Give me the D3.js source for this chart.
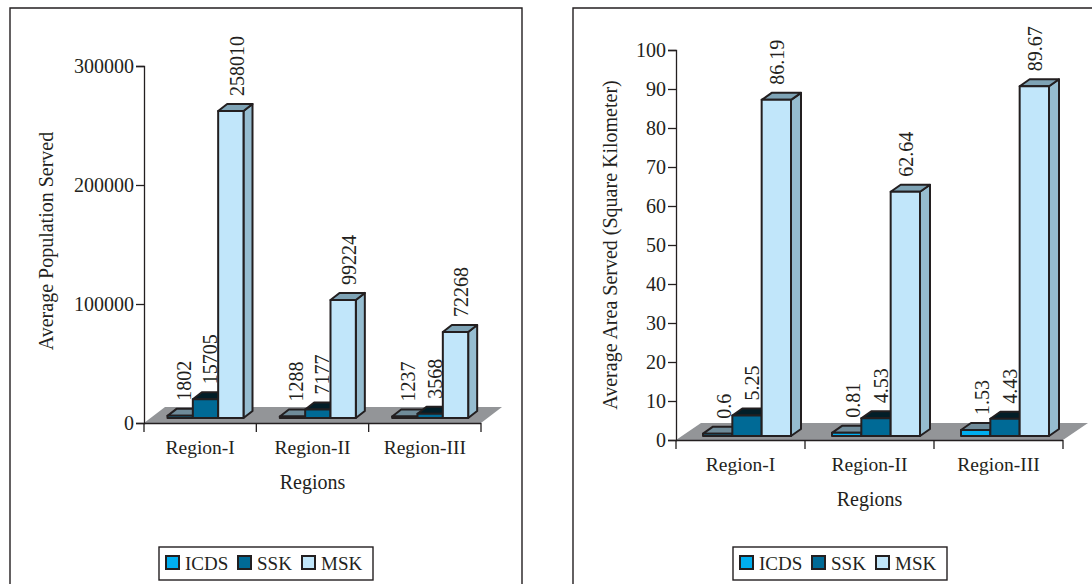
<!DOCTYPE html>
<html><head><meta charset="utf-8">
<script src="https://cdn.jsdelivr.net/npm/d3@7/dist/d3.min.js"></script>
<style>
html,body{margin:0;padding:0;background:#fff}
svg{display:block}
text{font-family:"Liberation Serif",serif;fill:#231f20}
</style></head><body>
<svg id="c" width="1092" height="584"></svg>
<script>
const regions = ["Region-I","Region-II","Region-III"];
const seriesNames = ["ICDS","SSK","MSK"];
const popICDS = [1802,1288,1237];
const popSSK = [15705,7177,3568];
const popMSK = [258010,99224,72268];
const areaICDS = [0.6,0.81,1.53];
const areaSSK = [5.25,4.53,4.43];
const areaMSK = [86.19,62.64,89.67];
const popLabels = ["1802","1288","1237","15705","7177","3568","258010","99224","72268"];
const areaLabels = ["0.6","0.81","1.53","5.25","4.53","4.43","86.19","62.64","89.67"];
const popTicks = [0,100000,200000,300000];
const areaTicks = [0,10,20,30,40,50,60,70,80,90,100];
const frontColors = ["#00aeef","#006a96","#c1e6fa"];
const topColors = ["#6f8b99","#021e28","#7ea3b5"];
const sideColors = ["#3f5560","#01303f","#96bdd0"];
const INK = "#231f20";
const svg = d3.select("#c");

function chart(o){
  const g = svg.append("g");
  g.append("path").attr("d",`M${o.fx0},584V8H${o.fx1}${o.fx1<1092?"V584":""}`)
    .attr("fill","none").attr("stroke",INK).attr("stroke-width",1.4);
  const y = d3.scaleLinear().domain(o.domain).range([o.y0,o.y1]);
  const x = d3.scaleBand().domain(regions).range([o.x0,o.x1]);
  const inner = d3.scaleBand().domain(seriesNames).range([0,o.groupW]);
  const dx=o.dx, dy=o.dy, b=o.barDrop;
  g.append("path").attr("d",`M${o.x0},${o.y0}L${o.x0+o.fl},${o.y0-o.fh}H${o.x1+o.fl}L${o.x1},${o.y0}Z`).attr("fill","#939598");
  const flat=[];
  regions.forEach((r,i)=>o.vals.forEach((v,s)=>flat.push({r,i,s,name:seriesNames[s],v:v[i],label:o.labels[s*3+i]})));
  flat.sort((a,c)=>a.i-c.i||a.s-c.s);
  const bars=g.selectAll("g.bar").data(flat).join("g").attr("class","bar");
  const st=sel=>sel.attr("stroke",INK).attr("stroke-width",2).attr("stroke-linejoin","round");
  const L=d=>x(d.r)+o.off+inner(d.name), W=inner.bandwidth(), Y0=o.y0-b, T=d=>y(d.v)-b;
  st(bars.append("path").attr("d",d=>`M${L(d)+W},${T(d)}l${dx},${-dy}V${Y0-dy}l${-dx},${dy}Z`).attr("fill",d=>sideColors[d.s]));
  st(bars.append("path").attr("d",d=>`M${L(d)},${T(d)}l${dx},${-dy}h${W}l${-dx},${dy}Z`).attr("fill",d=>topColors[d.s]));
  st(bars.append("path").attr("d",d=>`M${L(d)},${T(d)}h${W}V${Y0}H${L(d)}Z`).attr("fill",d=>frontColors[d.s]));
  g.selectAll("text.val").data(flat).join("text").attr("class","val")
    .attr("transform",d=>`translate(${L(d)+W/2+o.lx[d.s]},${T(d)-dy-o.ly}) rotate(-90)`)
    .attr("font-size",20).attr("dy","0.32em").text(d=>d.label);
  const ya=g.append("g").attr("transform",`translate(${o.x0},0)`)
    .call(d3.axisLeft(y).tickValues(o.ticks).tickFormat(d3.format("d")).tickSize(8).tickPadding(2));
  const xa=g.append("g").attr("transform",`translate(0,${o.y0})`)
    .call(d3.axisBottom(x).tickSize(0).tickPadding(17));
  const edges=[...regions.map(r=>x(r)),o.x1];
  g.append("g").selectAll("line").data(edges).join("line")
    .attr("x1",d=>d).attr("x2",d=>d).attr("y1",o.y0).attr("y2",o.y0+9).attr("stroke",INK).attr("stroke-width",1.3);
  [ya,xa].forEach(a=>{a.selectAll("path").attr("stroke",INK).attr("stroke-width",1.3);
    a.selectAll("line").attr("stroke",INK).attr("stroke-width",1.3);
    a.selectAll("text").attr("font-family",'"Liberation Serif",serif').attr("fill",INK);});
  ya.selectAll("text").attr("font-size",20);
  xa.selectAll("text").attr("font-size",19.5);
  xa.select("path").attr("d",`M${o.x0},0.5H${o.x1}`);
  g.append("text").attr("x",(o.x0+o.x1)/2).attr("y",o.y0+66).attr("text-anchor","middle").attr("font-size",20).text("Regions");
  g.append("text").attr("transform",`translate(${o.ytx},${o.yty}) rotate(-90)`).attr("text-anchor","middle").attr("font-size",20).text(o.yTitle);
  const lg=g.append("g");
  lg.append("rect").attr("x",o.lgx).attr("y",547).attr("width",214).attr("height",33).attr("fill","#fff").attr("stroke",INK).attr("stroke-width",1.4);
  const offs=[7,79,143];
  const it=lg.selectAll("g").data(seriesNames).join("g").attr("transform",(d,i)=>`translate(${o.lgx+offs[i]},556)`);
  it.append("rect").attr("width",13).attr("height",13).attr("fill",(d,i)=>frontColors[i]).attr("stroke",INK).attr("stroke-width",2);
  it.append("text").attr("x",19).attr("y",14).attr("font-size",19).text(d=>d);
}
chart({fx0:10,fx1:522,x0:144,x1:481,y0:423,y1:66,domain:[0,300000],ticks:popTicks,
  vals:[popICDS,popSSK,popMSK],labels:popLabels,off:23.5,groupW:76,dx:9,dy:7,barDrop:5,fl:21,fh:16,
  lx:[4,5,6.5],ly:8,ytx:53,yty:241,yTitle:"Average Population Served",lgx:159});
chart({fx0:573,fx1:1092,x0:676,x1:1063,y0:440,y1:50,domain:[0,100],ticks:areaTicks,
  vals:[areaICDS,areaSSK,areaMSK],labels:areaLabels,off:27,groupW:88,dx:10,dy:7,barDrop:4,fl:25,fh:17,
  lx:[7,6,1],ly:8,ytx:617,yty:245,yTitle:"Average Area Served (Square Kilometer)",lgx:733});
</script></body></html>
